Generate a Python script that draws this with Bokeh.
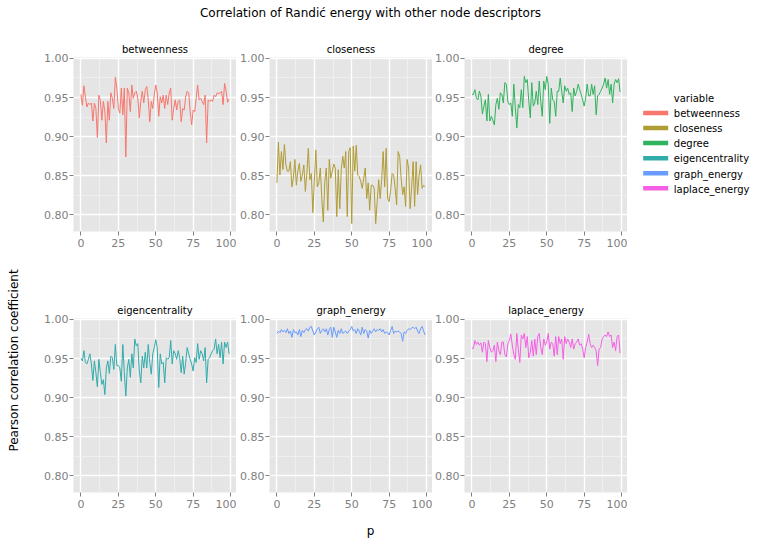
import math
from bokeh.plotting import figure
from bokeh.layouts import row, column
from bokeh.models import Range1d, FixedTicker, PrintfTickFormatter
from bokeh.core.properties import value
from bokeh.embed import file_html
from bokeh.resources import INLINE

FONT = "DejaVu Sans"

# ---------------- data ----------------
p_values = list(range(100))

betweenness = [
    0.954, 0.940, 0.965, 0.951, 0.938, 0.943, 0.941, 0.943, 0.920, 0.943,
    0.936, 0.899, 0.953, 0.946, 0.921, 0.945, 0.932, 0.892, 0.945, 0.921,
    0.956, 0.949, 0.936, 0.976, 0.962, 0.936, 0.930, 0.962, 0.928, 0.962,
    0.874, 0.962, 0.956, 0.932, 0.966, 0.949, 0.956, 0.958, 0.949, 0.924,
    0.945, 0.958, 0.943, 0.960, 0.964, 0.947, 0.919, 0.945, 0.936, 0.953,
    0.966, 0.956, 0.926, 0.951, 0.943, 0.953, 0.936, 0.953, 0.941, 0.956,
    0.962, 0.921, 0.936, 0.947, 0.934, 0.945, 0.947, 0.919, 0.936, 0.934,
    0.951, 0.958, 0.956, 0.932, 0.915, 0.934, 0.932, 0.949, 0.966, 0.947,
    0.949, 0.945, 0.941, 0.953, 0.892, 0.947, 0.945, 0.947, 0.945, 0.953,
    0.951, 0.956, 0.955, 0.956, 0.958, 0.941, 0.968, 0.958, 0.944, 0.948,
]

closeness = [
    0.841, 0.893, 0.851, 0.881, 0.858, 0.890, 0.864, 0.856, 0.856, 0.868,
    0.836, 0.847, 0.871, 0.838, 0.856, 0.866, 0.843, 0.851, 0.864, 0.830,
    0.853, 0.885, 0.845, 0.853, 0.803, 0.843, 0.883, 0.836, 0.841, 0.860,
    0.821, 0.791, 0.843, 0.860, 0.806, 0.871, 0.847, 0.856, 0.865, 0.860,
    0.798, 0.858, 0.808, 0.858, 0.875, 0.860, 0.881, 0.798, 0.881, 0.886,
    0.789, 0.888, 0.856, 0.889, 0.851, 0.849, 0.843, 0.834, 0.847, 0.860,
    0.821, 0.841, 0.806, 0.838, 0.838, 0.834, 0.789, 0.817, 0.845, 0.821,
    0.845, 0.881, 0.836, 0.885, 0.821, 0.817, 0.832, 0.853, 0.851, 0.834,
    0.813, 0.881, 0.875, 0.847, 0.826, 0.836, 0.811, 0.871, 0.860, 0.808,
    0.834, 0.868, 0.811, 0.868, 0.826, 0.851, 0.864, 0.834, 0.838, 0.836,
]

degree = [
    0.954, 0.954, 0.960, 0.949, 0.947, 0.958, 0.952, 0.929, 0.939, 0.947,
    0.920, 0.954, 0.920, 0.926, 0.921, 0.915, 0.941, 0.949, 0.935, 0.956,
    0.954, 0.943, 0.969, 0.967, 0.945, 0.941, 0.943, 0.926, 0.967, 0.937,
    0.911, 0.941, 0.937, 0.960, 0.937, 0.977, 0.969, 0.973, 0.945, 0.924,
    0.969, 0.939, 0.943, 0.958, 0.941, 0.971, 0.945, 0.926, 0.971, 0.960,
    0.977, 0.967, 0.917, 0.962, 0.947, 0.945, 0.926, 0.958, 0.958, 0.975,
    0.958, 0.943, 0.965, 0.958, 0.962, 0.954, 0.956, 0.932, 0.962, 0.952,
    0.958, 0.967, 0.960, 0.954, 0.947, 0.939, 0.949, 0.967, 0.952, 0.952,
    0.967, 0.954, 0.965, 0.928, 0.952, 0.954, 0.958, 0.962, 0.967, 0.975,
    0.962, 0.973, 0.954, 0.967, 0.943, 0.967, 0.973, 0.969, 0.974, 0.957,
]

eigencentrality = [
    0.950, 0.947, 0.960, 0.945, 0.943, 0.949, 0.956, 0.943, 0.922, 0.947,
    0.932, 0.914, 0.949, 0.932, 0.917, 0.923, 0.904, 0.938, 0.947, 0.931,
    0.953, 0.951, 0.936, 0.968, 0.941, 0.941, 0.938, 0.921, 0.968, 0.932,
    0.902, 0.938, 0.949, 0.926, 0.956, 0.938, 0.975, 0.966, 0.969, 0.934,
    0.919, 0.953, 0.938, 0.958, 0.938, 0.968, 0.945, 0.930, 0.956, 0.964,
    0.974, 0.964, 0.913, 0.956, 0.943, 0.945, 0.919, 0.951, 0.949, 0.951,
    0.973, 0.943, 0.960, 0.956, 0.949, 0.960, 0.951, 0.932, 0.953, 0.930,
    0.945, 0.964, 0.956, 0.949, 0.943, 0.934, 0.951, 0.945, 0.969, 0.949,
    0.960, 0.956, 0.947, 0.964, 0.919, 0.949, 0.951, 0.956, 0.960, 0.962,
    0.975, 0.956, 0.968, 0.951, 0.971, 0.943, 0.971, 0.964, 0.971, 0.956,
]

graph_energy = [
    0.982, 0.985, 0.983, 0.987, 0.984, 0.986, 0.983, 0.988, 0.982, 0.985,
    0.977, 0.987, 0.983, 0.984, 0.980, 0.987, 0.978, 0.986, 0.983, 0.987,
    0.988, 0.985, 0.990, 0.991, 0.985, 0.980, 0.984, 0.988, 0.990, 0.982,
    0.986, 0.988, 0.984, 0.988, 0.980, 0.987, 0.990, 0.977, 0.990, 0.984,
    0.977, 0.986, 0.982, 0.988, 0.982, 0.984, 0.985, 0.982, 0.985, 0.987,
    0.991, 0.985, 0.987, 0.982, 0.988, 0.985, 0.980, 0.990, 0.982, 0.987,
    0.985, 0.976, 0.986, 0.982, 0.985, 0.988, 0.984, 0.987, 0.986, 0.988,
    0.984, 0.987, 0.982, 0.984, 0.983, 0.980, 0.986, 0.991, 0.982, 0.985,
    0.984, 0.985, 0.984, 0.982, 0.972, 0.984, 0.982, 0.986, 0.988, 0.987,
    0.989, 0.990, 0.988, 0.990, 0.985, 0.982, 0.988, 0.991, 0.985, 0.980,
]

laplace_energy = [
    0.963, 0.963, 0.973, 0.968, 0.971, 0.967, 0.970, 0.958, 0.971, 0.969,
    0.946, 0.973, 0.964, 0.958, 0.960, 0.967, 0.946, 0.971, 0.960, 0.955,
    0.971, 0.971, 0.955, 0.952, 0.969, 0.973, 0.981, 0.967, 0.955, 0.949,
    0.982, 0.962, 0.945, 0.980, 0.975, 0.982, 0.964, 0.978, 0.951, 0.958,
    0.973, 0.953, 0.975, 0.955, 0.978, 0.982, 0.964, 0.955, 0.975, 0.967,
    0.971, 0.982, 0.962, 0.971, 0.969, 0.953, 0.978, 0.955, 0.978, 0.969,
    0.975, 0.949, 0.978, 0.969, 0.975, 0.971, 0.964, 0.975, 0.962, 0.969,
    0.971, 0.975, 0.967, 0.969, 0.962, 0.951, 0.964, 0.971, 0.981, 0.969,
    0.964, 0.967, 0.964, 0.960, 0.941, 0.962, 0.964, 0.975, 0.978, 0.980,
    0.978, 0.984, 0.978, 0.980, 0.964, 0.971, 0.960, 0.978, 0.980, 0.957,
]

variables = ["betweenness", "closeness", "degree",
             "eigencentrality", "graph_energy", "laplace_energy"]
series = [betweenness, closeness, degree, eigencentrality, graph_energy, laplace_energy]
colors = ["#F8766D", "#B09C35", "#2FB35C", "#32ABAB", "#6A9BFF", "#F55FE6"]

x_ticks = [0, 25, 50, 75, 100]
x_minor = [12.5, 37.5, 62.5, 87.5]
y_ticks = [0.80, 0.85, 0.90, 0.95, 1.00]
y_minor = [0.825, 0.875, 0.925, 0.975]

title_text = "Correlation of Randi\u0107 energy with other node descriptors"
x_label = "p"
y_label = "Pearson correlation coefficient"
legend_title = "variable"

# ---------------- layout constants ----------------
FRAME_W, FRAME_H = 163, 174
LEFTS = [35, 33, 32]
TOP1, BOT1 = 19, 59
TOP2, BOT2 = 28, 20
TITLE_H, XLAB_H = 38, 30
YLAB_W, LEG_W = 38, 124
MID_H = (TOP1 + FRAME_H + BOT1) + (TOP2 + FRAME_H + BOT2)
MID_TOP = TITLE_H

xmin, xmax = min(p_values), max(p_values)
allv = [v for s in series for v in s]
ymin, ymax = min(allv), max(allv)
xpad = 0.05 * (xmax - xmin)
ypad = 0.05 * (ymax - ymin)
GRAY = "#808080"


def panel(name, vals, color, left, top, bottom):
    p = figure(width=left + FRAME_W, height=top + FRAME_H + bottom,
               x_range=Range1d(xmin - xpad, xmax + xpad),
               y_range=Range1d(ymin - ypad, ymax + ypad),
               output_backend="svg", toolbar_location=None,
               min_border_left=left, min_border_right=0,
               min_border_top=top, min_border_bottom=bottom,
               title=name)
    p.title.align = "center"
    p.title.text_font = FONT
    p.title.text_font_size = "10px"
    p.title.text_font_style = "normal"
    p.title.text_color = "#000000"
    p.title.standoff = 6
    p.background_fill_color = "#E5E5E5"
    p.border_fill_color = "white"
    p.outline_line_color = None
    p.xaxis.ticker = FixedTicker(ticks=x_ticks, minor_ticks=x_minor)
    p.yaxis.ticker = FixedTicker(ticks=y_ticks, minor_ticks=y_minor)
    p.yaxis.formatter = PrintfTickFormatter(format="%.2f")
    for ax in p.axis:
        ax.axis_line_color = None
        ax.major_tick_line_color = GRAY
        ax.major_tick_in = 0
        ax.major_tick_out = 4
        ax.minor_tick_line_color = None
        ax.major_label_text_color = GRAY
        ax.major_label_text_font = FONT
        ax.major_label_text_font_size = "11px"
        ax.major_label_standoff = 1
    p.xaxis.major_label_standoff = 3
    p.grid.grid_line_color = "white"
    p.grid.grid_line_width = 1.4
    p.grid.minor_grid_line_color = "#F3F3F3"
    p.grid.minor_grid_line_width = 0.7
    p.line(p_values, vals, line_color=color, line_width=1)
    return p


def text_fig(w, h):
    f = figure(width=w, height=h, x_range=Range1d(0, w), y_range=Range1d(0, h),
               output_backend="svg", toolbar_location=None,
               x_axis_location=None, y_axis_location=None, min_border=0)
    f.grid.visible = False
    f.outline_line_color = None
    f.background_fill_color = "white"
    f.border_fill_color = "white"
    return f


panels = []
for k, (name, vals, col) in enumerate(zip(variables, series, colors)):
    r = k // 3
    c = k % 3
    if r == 0:
        panels.append(panel(name, vals, col, LEFTS[c], TOP1, BOT1))
    else:
        panels.append(panel(name, vals, col, LEFTS[c], TOP2, BOT2))

total_w = YLAB_W + sum(LEFTS) + 3 * FRAME_W + LEG_W

# title
tf = text_fig(total_w, TITLE_H)
tf.text(x=[370], y=[TITLE_H - 12], text=[title_text], text_font=value(FONT),
        text_font_size="12px", text_align="center", text_baseline="alphabetic",
        text_color="#000000")

# y label
yf = text_fig(YLAB_W, MID_H)
yf.text(x=[13.3], y=[MID_H - (360 - MID_TOP)], text=[y_label], text_font=value(FONT),
        text_font_size="12px", text_align="center", text_baseline="alphabetic",
        angle=math.pi / 2, text_color="#000000")

# x label
xf = text_fig(total_w, XLAB_H)
xf.text(x=[370], y=[XLAB_H - (530.5 - MID_TOP - MID_H)], text=[x_label], text_font=value(FONT),
        text_font_size="12px", text_align="center", text_baseline="alphabetic",
        text_color="#000000")

# legend
lf = text_fig(LEG_W, MID_H)
sw_y = [MID_H - (112.4 + 15.08 * k - MID_TOP) for k in range(len(variables))]
lf.segment(x0=[15.7] * len(variables), x1=[40.7] * len(variables),
           y0=sw_y, y1=sw_y, line_color=colors, line_width=4.5, line_cap="butt")
lf.text(x=[46.3] * len(variables), y=[v - 0.8 for v in sw_y], text=variables,
        text_font=value(FONT), text_font_size="10px", text_baseline="middle",
        text_color="#000000")
lf.text(x=[46.3], y=[MID_H - (98.3 - MID_TOP)], text=[legend_title],
        text_font=value(FONT), text_font_size="10px", text_baseline="middle",
        text_color="#000000")

grid_col = column(row(*panels[:3]), row(*panels[3:]))
layout = column(tf, row(yf, grid_col, lf), xf)

open("out.html", "w").write(file_html(layout, INLINE))
